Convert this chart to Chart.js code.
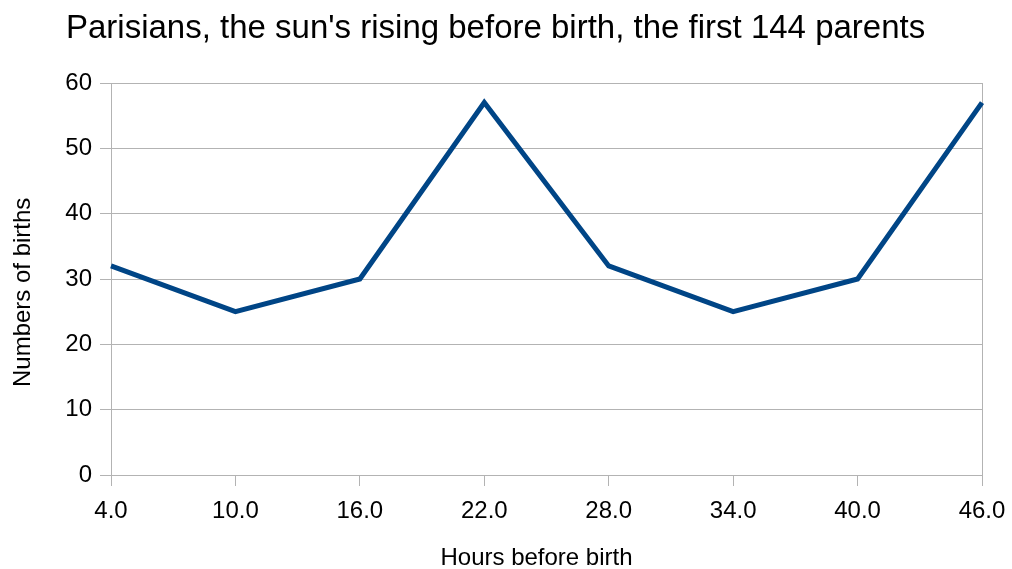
<!DOCTYPE html>
<html>
<head>
<meta charset="utf-8">
<script src="https://cdn.jsdelivr.net/npm/chart.js@4"></script>
<style>
  html, body { margin: 0; padding: 0; background: #fff; }
  #wrap { width: 1012px; height: 569px; }
</style>
</head>
<body>
<div id="wrap"><canvas id="chart" width="1012" height="569"></canvas></div>
<script>
// hours before birth (x categories) and number of births
const hours = ['4.0', '10.0', '16.0', '22.0', '28.0', '34.0', '40.0', '46.0'];
const births = [32, 25, 30, 57, 32, 25, 30, 57];
const yTicks = [0, 10, 20, 30, 40, 50, 60];

const gridColor = '#b3b3b3';
const fontFamily = '"Liberation Sans", Arial, sans-serif';
const nb = '\u00a0';

document.addEventListener('DOMContentLoaded', () => {
    const ctx = document.getElementById('chart').getContext('2d');
    new Chart(ctx, {
        type: 'line',
        data: {
            labels: hours,
            datasets: [{
                label: 'Births',
                data: births,
                borderColor: '#004586',
                backgroundColor: '#004586',
                borderWidth: 5,
                pointRadius: 0,
                tension: 0,
                borderJoinStyle: 'miter'
            }]
        },
        options: {
            responsive: false,
            animation: false,
            layout: { padding: { left: 0, right: 30, top: 9, bottom: 0 } },
            plugins: {
                legend: { display: false },
                tooltip: { enabled: false },
                title: {
                    display: true,
                    // leading space nudges the centred title a little right, as in the original
                    text: nb + "Parisians, the sun's rising before birth, the first 144 parents",
                    color: '#000',
                    font: { family: fontFamily, size: 33, weight: 'normal' },
                    padding: { top: 0, bottom: 34.4 }
                }
            },
            scales: {
                x: {
                    type: 'category',
                    offset: false,
                    afterFit: (scale) => {
                        scale.height = 94;
                        scale.paddingLeft = 0;
                        scale.paddingRight = 0;
                    },
                    grid: {
                        offset: false,
                        color: (c) => c.index === hours.length - 1 ? gridColor : 'rgba(0,0,0,0)',
                        tickColor: gridColor,
                        tickLength: 11,
                        lineWidth: 1
                    },
                    border: { color: gridColor },
                    ticks: {
                        color: '#000',
                        font: { family: fontFamily, size: 24 },
                        padding: 11,
                        maxRotation: 0,
                        autoSkip: false
                    },
                    title: {
                        display: true,
                        text: 'Hours before birth' + nb.repeat(3),
                        color: '#000',
                        font: { family: fontFamily, size: 24, lineHeight: 0.85 },
                        padding: { top: 0, bottom: 0 }
                    }
                },
                y: {
                    min: 0,
                    max: 60,
                    afterFit: (scale) => { scale.width = 111; },
                    afterBuildTicks: (scale) => { scale.ticks = yTicks.map(v => ({ value: v })); },
                    grid: {
                        color: gridColor,
                        tickColor: gridColor,
                        tickLength: 11,
                        lineWidth: 1
                    },
                    border: { color: gridColor },
                    ticks: {
                        color: '#000',
                        font: { family: fontFamily, size: 24 },
                        padding: 8
                    },
                    title: {
                        display: true,
                        text: 'Numbers of births' + nb.repeat(4),
                        color: '#000',
                        font: { family: fontFamily, size: 24 },
                        padding: { top: 9, bottom: 0 }
                    }
                }
            }
        }
    });
});
</script>
</body>
</html>
